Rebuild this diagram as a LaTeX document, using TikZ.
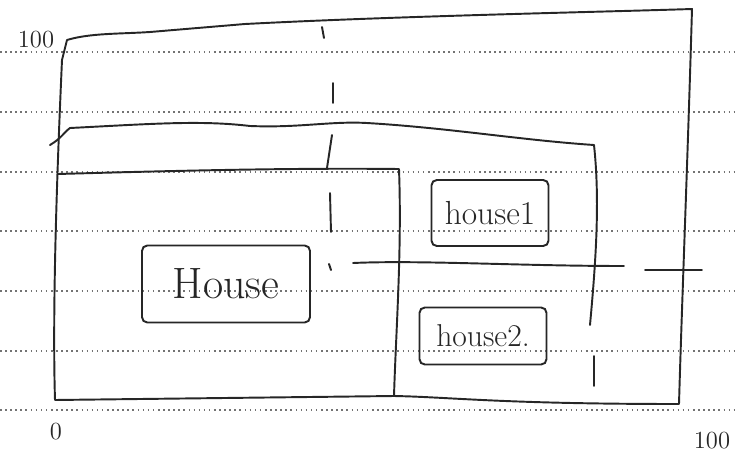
\documentclass[tikz,border=0pt]{standalone}
\usetikzlibrary{calc}
\begin{document}
\begin{tikzpicture}[x=0.02cm,y=-0.02cm,
  pen/.style={line width=1.1pt,line join=round,line cap=round,black!85},
  ruled/.style={dotted,line width=0.9pt,black!55},
  hbox/.style={draw,line width=1.1pt,rounded corners=3pt,black!85,inner sep=0pt},
  lbl/.style={font=\fontsize{14}{16}\selectfont,black!85}]
\useasboundingbox (0,0) rectangle (735,457);
% ruled paper lines
\foreach \y in {52,112,172,231,291,351,410}
  \draw[ruled] (0,\y) -- (735,\y);
% outer frame
\draw[pen] (67,40) .. controls (90,33) and (120,34) .. (150,32) -- (245,24)
  .. controls (400,16) and (600,12) .. (692,9)
  .. controls (688,150) and (682,300) .. (679,404)
  .. controls (500,404) and (450,397) .. (394,396) -- (55,400)
  .. controls (52,300) and (58,150) .. (62,60) -- (67,40);
% left container
\draw[pen] (58,174) .. controls (200,170) and (300,168) .. (399,169)
  .. controls (402,250) and (396,330) .. (394,396);
% upper wavy line and right side
\draw[pen] (50,145) .. controls (62,138) and (66,130) .. (70,128)
  .. controls (150,124) and (200,120) .. (250,126)
  .. controls (300,128) and (330,121) .. (367,123)
  .. controls (450,128) and (520,140) .. (594,145)
  .. controls (600,200) and (596,260) .. (590,325);
\draw[pen] (594,356) -- (594,386);
% vertical dashed stroke
\draw[pen] (322,27) -- (324,38);
\draw[pen] (333,83) -- (333,103);
\draw[pen] (332,135) -- (327,168);
\draw[pen] (330,193) -- (331,232);
\draw[pen] (329,264) -- (331,270);
% horizontal line
\draw[pen] (353,263) .. controls (420,260) and (520,266) .. (624,266);
\draw[pen] (645,270) -- (702,270);
% boxes
\node[hbox,minimum width=3.36cm,minimum height=1.54cm,
  font=\fontsize{25}{28}\selectfont] (house) at (226,284) {House};
\node[hbox,minimum width=2.34cm,minimum height=1.32cm,
  font=\fontsize{19}{22}\selectfont] (house1) at (490,213) {house1};
\node[hbox,minimum width=2.54cm,minimum height=1.14cm,
  font=\fontsize{18}{21}\selectfont] (house2) at (483,336) {house2.};
% axis labels
\node[lbl] (ytop) at (36,40) {100};
\node[lbl] (orig) at (56,432) {0};
\node[lbl] (xright) at (712,441) {100};
\end{tikzpicture}
\end{document}
